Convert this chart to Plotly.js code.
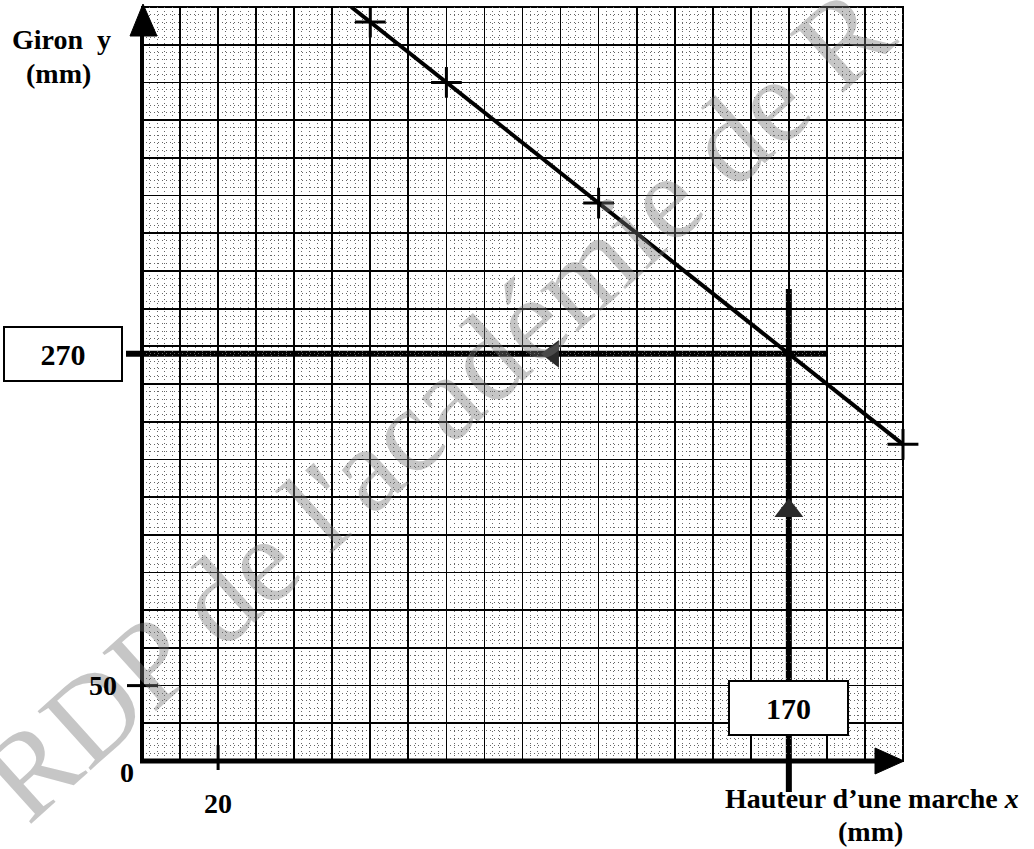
<!DOCTYPE html>
<html>
<head>
<meta charset="utf-8">
<script src="https://cdn.plot.ly/plotly-3.0.1.min.js"></script>
<style>html,body{margin:0;padding:0;background:#fff;}#chart{width:1034px;height:849px;}</style>
</head>
<body>
<div id="chart"></div>
<script>
// ---- data ----
const pointsX = [60, 80, 120, 200];          // hauteur d'une marche (mm)
const pointsY = [490, 450, 370, 210];        // giron (mm)
const lineX = [55, 200];
const lineY = [500, 210];
const readX = 170;                           // lecture: hauteur
const readY = 270;                           // lecture: giron
const readArrowLeft = {x: [108], y: [270]};
const readArrowUp = {x: [170], y: [166]};
const xTickVals = [0, 20];
const xTickText = ['0', '20'];
const yTickVals = [50];
const yTickText = ['50'];
const xMax = 200, yMax = 500;

// ---- layout helpers (page pixels -> paper) ----
const W = 1034, H = 849, ML = 142, MR = 131, MT = 7, MB = 88;
const PW = W - ML - MR, PH = H - MT - MB;
const px = v => (v - ML) / PW;
const py = v => (H - MB - v) / PH;

const serif = 'Liberation Serif, Times New Roman, serif';
const txtFont = {family: serif, size: 28, color: '#000'};

const traces = [
  {x: lineX, y: lineY, mode: 'lines', line: {color: '#000', width: 4}, hoverinfo: 'skip'},
  {x: pointsX, y: pointsY, mode: 'markers', cliponaxis: false,
   marker: {symbol: 'cross-thin', size: 22, line: {color: '#000', width: 3}}},
  {x: readArrowLeft.x, y: readArrowLeft.y, mode: 'markers', cliponaxis: false,
   marker: {symbol: 'triangle-left', size: 24, color: '#2a2a2a'}},
  {x: readArrowUp.x, y: readArrowUp.y, mode: 'markers', cliponaxis: false,
   marker: {symbol: 'triangle-up', size: 25, color: '#2a2a2a'}}
];

const shapes = [
  // frame
  {type: 'rect', xref: 'paper', yref: 'paper', x0: 0, y0: 0, x1: 1, y1: 1,
   line: {color: '#000', width: 2}, layer: 'between'},
  // reading lines
  {type: 'line', xref: 'paper', yref: 'y', x0: px(126), x1: 180 / xMax, y0: readY, y1: readY,
   line: {color: '#000', width: 6}, layer: 'between'},
  {type: 'line', xref: 'x', yref: 'paper', x0: readX, x1: readX, y0: py(792), y1: 313 / yMax,
   line: {color: '#000', width: 6}, layer: 'between'},
  // axes
  {type: 'line', xref: 'paper', yref: 'paper', x0: 0, x1: 0, y0: py(763), y1: py(30),
   line: {color: '#000', width: 4}, layer: 'above'},
  {type: 'line', xref: 'paper', yref: 'paper', x0: px(140), x1: px(880), y0: 0, y1: 0,
   line: {color: '#000', width: 5}, layer: 'above'},
  {type: 'path', xref: 'paper', yref: 'paper', layer: 'above',
   path: `M${px(143)},${py(4)} L${px(130)},${py(36)} L${px(157)},${py(36)} Z`,
   fillcolor: '#000', line: {color: '#000', width: 1}},
  {type: 'path', xref: 'paper', yref: 'paper', layer: 'above',
   path: `M${px(904)},${py(761)} L${px(875)},${py(748)} L${px(875)},${py(774)} Z`,
   fillcolor: '#000', line: {color: '#000', width: 1}},
  // tick marks
  {type: 'line', xref: 'paper', yref: 'y', x0: px(127), x1: px(158), y0: yTickVals[0], y1: yTickVals[0],
   line: {color: '#000', width: 3}, layer: 'above'},
  {type: 'line', xref: 'x', yref: 'paper', x0: xTickVals[1], x1: xTickVals[1], y0: py(770), y1: py(745),
   line: {color: '#000', width: 3}, layer: 'above'}
];

const annotations = [
  // watermark
  {xref: 'paper', yref: 'paper', x: px(436), y: py(404), showarrow: false, textangle: -42,
   text: "RDP de l'académie de R", xanchor: 'center', yanchor: 'middle',
   font: {family: serif, size: 121, color: 'rgba(120,120,120,0.42)'}},
  // axis titles
  {xref: 'paper', yref: 'paper', x: px(61), y: py(40), showarrow: false, xanchor: 'center', yanchor: 'middle',
   text: '<b>Giron\u00a0\u00a0y</b>', font: txtFont},
  {xref: 'paper', yref: 'paper', x: px(58), y: py(73), showarrow: false, xanchor: 'center', yanchor: 'middle',
   text: '<b>(mm)</b>', font: txtFont},
  {xref: 'paper', yref: 'paper', x: px(872), y: py(799), showarrow: false, xanchor: 'center', yanchor: 'middle',
   text: '<b>Hauteur d\u2019une marche <i>x</i></b>', font: txtFont},
  {xref: 'paper', yref: 'paper', x: px(870), y: py(831), showarrow: false, xanchor: 'center', yanchor: 'middle',
   text: '<b>(mm)</b>', font: txtFont},
  // tick labels
  {xref: 'x', yref: 'y', x: xTickVals[0], y: 0, xshift: -15, yshift: -11, showarrow: false,
   text: '<b>' + xTickText[0] + '</b>', font: txtFont},
  {xref: 'x', yref: 'y', x: xTickVals[1], y: 0, yshift: -42, showarrow: false,
   text: '<b>' + xTickText[1] + '</b>', font: txtFont},
  {xref: 'x', yref: 'y', x: 0, y: yTickVals[0], xshift: -39, showarrow: false,
   text: '<b>' + yTickText[0] + '</b>', font: txtFont},
  // value boxes
  {xref: 'paper', yref: 'y', x: px(63), y: readY, showarrow: false, xanchor: 'center', yanchor: 'middle',
   text: '<b>' + readY + '</b>', width: 116, height: 52, borderpad: 0, borderwidth: 2,
   bordercolor: '#000', bgcolor: '#fff', font: {family: serif, size: 30, color: '#000'}},
  {xref: 'x', yref: 'paper', x: readX, y: py(708), showarrow: false, xanchor: 'center', yanchor: 'middle',
   text: '<b>' + readX + '</b>', width: 117, height: 52, borderpad: 0, borderwidth: 2,
   bordercolor: '#000', bgcolor: '#fff', font: {family: serif, size: 30, color: '#000'}}
];

const layout = {
  width: W, height: H,
  margin: {l: ML, r: MR, t: MT, b: MB, pad: 0},
  paper_bgcolor: '#fff', plot_bgcolor: '#fff',
  showlegend: false,
  xaxis: {range: [0, xMax], showticklabels: false, ticks: '', zeroline: false, showline: false,
    showgrid: true, dtick: 10, tick0: 0, gridcolor: '#000', gridwidth: 1.8,
    minor: {dtick: 2, tick0: 0, showgrid: true, gridcolor: '#666', gridwidth: 1, griddash: '1px,3px'}},
  yaxis: {range: [0, yMax], showticklabels: false, ticks: '', zeroline: false, showline: false,
    showgrid: true, dtick: 25, tick0: 0, gridcolor: '#000', gridwidth: 1.8,
    minor: {dtick: 5, tick0: 0, showgrid: true, gridcolor: '#666', gridwidth: 1, griddash: '1px,3px'}},
  shapes: shapes,
  annotations: annotations
};

Plotly.newPlot('chart', traces, layout, {staticPlot: true, displayModeBar: false});
</script>
</body>
</html>
